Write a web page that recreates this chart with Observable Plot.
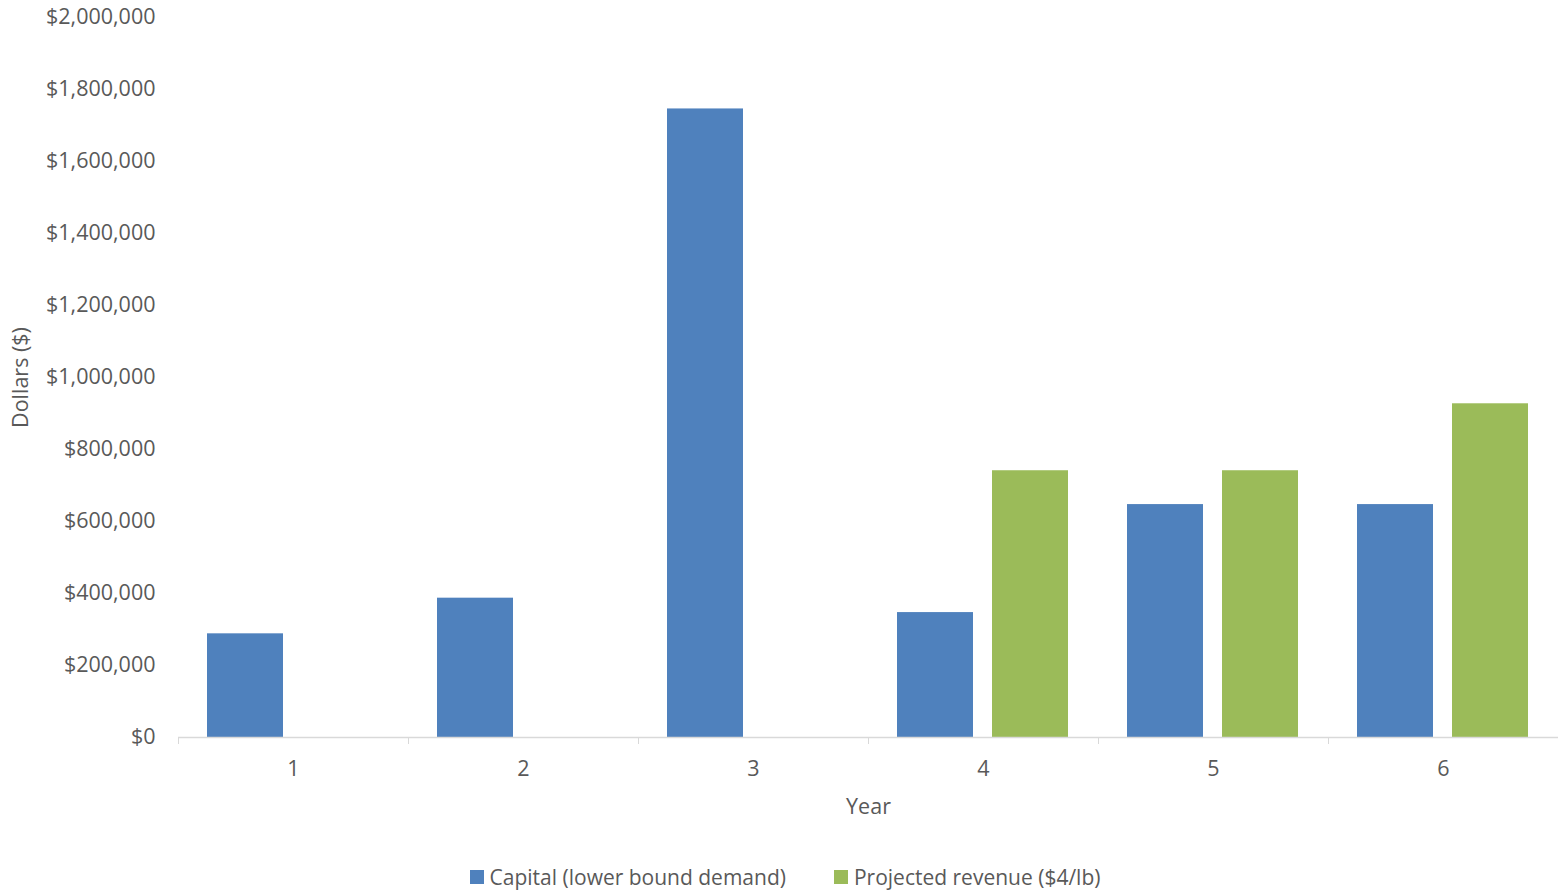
<!DOCTYPE html>
<html>
<head>
<meta charset="utf-8">
<script src="https://cdn.jsdelivr.net/npm/d3@7"></script>
<script src="https://cdn.jsdelivr.net/npm/@observablehq/plot@0.6"></script>
<style>
  html, body { margin: 0; padding: 0; background: #fff; }
  #chart { width: 1558px; }
  .legend { display: flex; justify-content: center; gap: 48px; font-family: "Open Sans", sans-serif; font-size: 21px; color: #595959; padding-top: 23px; padding-left: 12px; }
  .legend .item { display: flex; align-items: center; }
  .legend .sw { width: 14px; height: 14px; margin-right: 6px; display: inline-block; }
</style>
</head>
<body>
<div id="chart"></div>
<script>
const years = [1, 2, 3, 4, 5, 6];
const capital = [288000, 387000, 1746000, 347000, 647000, 647000];
const revenue = [null, null, null, 741000, 741000, 927000];
const seriesNames = ["Capital (lower bound demand)", "Projected revenue ($4/lb)"];
const seriesColors = ["#4F81BD", "#9BBB59"];
const yTicks = [0, 200000, 400000, 600000, 800000, 1000000, 1200000, 1400000, 1600000, 1800000, 2000000];

const data = years.flatMap((year, i) => [
  {year, series: seriesNames[0], value: capital[i]},
  {year, series: seriesNames[1], value: revenue[i]}
]).filter(d => d.value != null);

const fmt = d => "$" + d3.format(",")(d);
const textColor = "#595959";

const plot = Plot.plot({
  width: 1558,
  height: 840,
  marginLeft: 178,
  marginRight: 0,
  marginTop: 17,
  marginBottom: 103,
  style: {fontFamily: "Open Sans, sans-serif", fontSize: "21.5px", color: textColor, background: "white"},
  fx: {domain: years, padding: 0, label: null},
  x: {domain: seriesNames, paddingInner: 0.198, paddingOuter: 0.297, axis: null},
  y: {domain: [0, 2000000], ticks: yTicks},
  color: {domain: seriesNames, range: seriesColors},
  marks: [
    Plot.barY(data, {fx: "year", x: "series", y: "value", fill: "series"}),
    Plot.ruleY([0], {stroke: "#d9d9d9", strokeWidth: 1.5}),
    Plot.axisY(yTicks, {tickSize: 0, tickPadding: 23, tickFormat: fmt, fontSize: 21.5, fill: textColor,
      label: "Dollars ($)", labelAnchor: "center", labelArrow: "none", labelOffset: 166}),
    Plot.axisFx({anchor: "bottom", tickSize: 0, tickPadding: 23, fontSize: 21.5, fill: textColor,
      label: "Year", labelAnchor: "center", labelArrow: "none", labelOffset: 76}),
    Plot.axisFx({anchor: "bottom", tickSize: 7, tickFormat: () => "", dx: -115, stroke: "#d9d9d9", label: null})
  ]
});
document.getElementById("chart").appendChild(plot);

const legend = document.createElement("div");
legend.className = "legend";
seriesNames.forEach((name, i) => {
  const item = document.createElement("div");
  item.className = "item";
  const sw = document.createElement("span");
  sw.className = "sw";
  sw.style.background = seriesColors[i];
  const label = document.createElement("span");
  label.textContent = name;
  item.appendChild(sw);
  item.appendChild(label);
  legend.appendChild(item);
});
document.getElementById("chart").appendChild(legend);
</script>
</body>
</html>
